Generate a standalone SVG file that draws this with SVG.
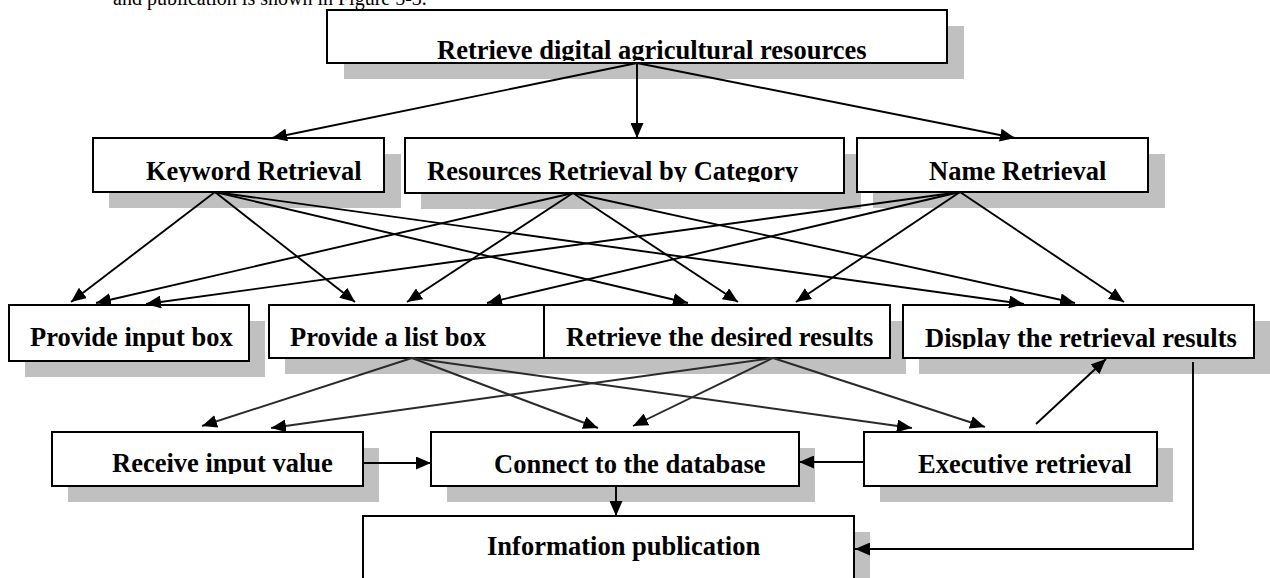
<svg xmlns="http://www.w3.org/2000/svg" width="1270" height="578" viewBox="0 0 1270 578">
<style>
.box{fill:#fff;stroke:#000;stroke-width:2}
.sh{fill:#c0c0c0}
.t{font-family:"Liberation Serif","Times New Roman",serif;font-weight:bold;font-size:26.5px;fill:#000}
.cap{font-family:"Liberation Serif","Times New Roman",serif;font-size:20px;fill:#000}
.c{stroke:#000;stroke-width:1.9;fill:none;marker-end:url(#ah)}
.g{stroke:#2a2a2a}
</style>
<defs>
<marker id="ah" markerUnits="userSpaceOnUse" markerWidth="16" markerHeight="13" refX="15" refY="6.5" orient="auto"><path d="M0,0 L15,6.5 L0,13 z" fill="#000"/></marker>
<clipPath id="c-top"><rect x="0" y="0" width="1270" height="61"/></clipPath>
<clipPath id="c-r2"><rect x="0" y="0" width="1270" height="182"/></clipPath>
<clipPath id="c-disp"><rect x="0" y="0" width="1270" height="349"/></clipPath>
<clipPath id="c-recv"><rect x="0" y="0" width="1270" height="474"/></clipPath>
</defs>
<text class="cap" x="113" y="5">and publication is shown in Figure 5-3.</text>
<g id="n-top">
<rect class="sh" x="344" y="26" width="620" height="53"/>
<rect class="box" x="327" y="10" width="620" height="53"/>
<text class="t" x="437" y="59" clip-path="url(#c-top)">Retrieve digital agricultural resources</text>
</g>
<g id="n-keyword">
<rect class="sh" x="109" y="154" width="292" height="54"/>
<rect class="box" x="93" y="138" width="291" height="54"/>
<text class="t" x="146" y="180" clip-path="url(#c-r2)">Keyword Retrieval</text>
</g>
<g id="n-category">
<rect class="sh" x="421" y="154" width="440" height="55"/>
<rect class="box" x="405" y="138" width="439" height="55"/>
<text class="t" x="427" y="180" clip-path="url(#c-r2)">Resources Retrieval by Category</text>
</g>
<g id="n-name">
<rect class="sh" x="873" y="154" width="292" height="54"/>
<rect class="box" x="857" y="138" width="291" height="54"/>
<text class="t" x="929" y="180">Name Retrieval</text>
</g>
<g id="n-input">
<rect class="sh" x="25" y="321" width="240" height="56"/>
<rect class="box" x="9" y="305" width="240" height="56"/>
<text class="t" x="30" y="346">Provide input box</text>
</g>
<g id="n-list">
<rect class="sh" x="285" y="321" width="276" height="53"/>
<rect class="box" x="269" y="305" width="275" height="53"/>
<text class="t" x="290" y="346">Provide a list box</text>
</g>
<g id="n-desired">
<rect class="sh" x="560" y="321" width="346" height="53"/>
<rect class="box" x="544" y="305" width="346" height="53"/>
<text class="t" x="566" y="346">Retrieve the desired results</text>
</g>
<g id="n-display">
<rect class="sh" x="919" y="321" width="352" height="53"/>
<rect class="box" x="903" y="305" width="351" height="53"/>
<text class="t" x="925" y="347" clip-path="url(#c-disp)">Display the retrieval results</text>
</g>
<g id="n-receive">
<rect class="sh" x="68" y="448" width="311" height="54"/>
<rect class="box" x="52" y="432" width="311" height="54"/>
<text class="t" x="112" y="472" clip-path="url(#c-recv)">Receive input value</text>
</g>
<g id="n-connect">
<rect class="sh" x="447" y="448" width="368" height="54"/>
<rect class="box" x="431" y="432" width="368" height="54"/>
<text class="t" x="494" y="473">Connect to the database</text>
</g>
<g id="n-exec">
<rect class="sh" x="880" y="448" width="293" height="54"/>
<rect class="box" x="864" y="432" width="293" height="54"/>
<text class="t" x="918" y="473">Executive retrieval</text>
</g>
<g id="n-info">
<rect class="sh" x="379" y="532" width="491" height="60"/>
<rect class="box" x="363" y="516" width="491" height="64"/>
<text class="t" x="487" y="555">Information publication</text>
</g>
<g id="connectors">
<path class="c" d="M637,63 L272,138"/>
<path class="c" d="M637,63 L637,138"/>
<path class="c" d="M637,63 L1015,138"/>
<path class="c" d="M215,192 L71,302"/>
<path class="c" d="M215,192 L355,302"/>
<path class="c" d="M215,192 L688,303"/>
<path class="c" d="M215,192 L1024,304"/>
<path class="c" d="M573,193 L96,303"/>
<path class="c" d="M573,193 L407,302"/>
<path class="c" d="M573,193 L738,302"/>
<path class="c" d="M573,193 L1075,303"/>
<path class="c" d="M960,192 L146,304"/>
<path class="c" d="M960,192 L487,303"/>
<path class="c" d="M960,192 L796,302"/>
<path class="c" d="M960,192 L1124,302"/>
<path class="c g" d="M412,358 L202,426"/>
<path class="c g" d="M412,358 L598,428"/>
<path class="c g" d="M412,358 L912,428"/>
<path class="c g" d="M773,358 L271,428"/>
<path class="c g" d="M773,358 L633,426"/>
<path class="c g" d="M773,358 L985,427"/>
<path class="c" d="M363,463 L431,463"/>
<path class="c" d="M864,462 L799,462"/>
<path class="c" d="M616,486 L616,516"/>
<path class="c" d="M1036,424 L1106,359"/>
<path class="c" d="M1193,362 L1193,549 L855,549"/>
</g>
</svg>
